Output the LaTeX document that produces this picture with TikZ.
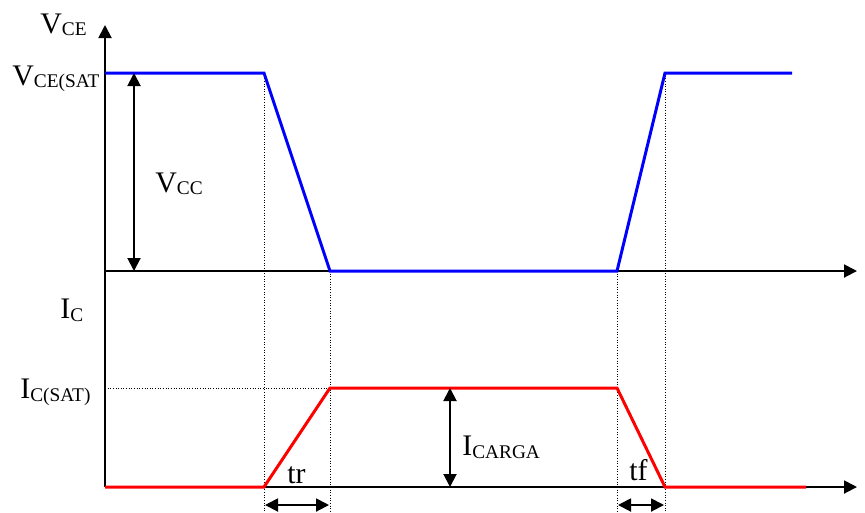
\documentclass[tikz,border=0pt]{standalone}
\usepackage{fontspec}
\setmainfont{Liberation Serif}
\usetikzlibrary{arrows.meta}
\newcommand{\lowidx}[1]{\raisebox{-1.7pt}{\fontsize{11}{11}\selectfont #1}}
\tikzset{
  >={Triangle[length=2.6mm,width=2.6mm]},
  axis/.style={line width=1.1pt,->},
  vcewave/.style={line width=1.7pt,blue,line join=miter},
  icwave/.style={line width=1.7pt,red,line join=miter},
  guide/.style={densely dotted,line width=0.5pt},
  span/.style={line width=1.1pt,<->},
  lbl/.style={inner sep=0pt,anchor=base west,font=\fontsize{17}{20}\selectfont},
}
\begin{document}
\begin{tikzpicture}[x=0.02cm,y=-0.02cm]
        \useasboundingbox (0,0) rectangle (865,512);
        % axes
        \coordinate (O)    at (105,487);
        \coordinate (Otop) at (105,25);
        \coordinate (Uo)   at (105,271);
        \coordinate (Uend) at (857,271);
        \coordinate (Lend) at (857,487);
        % vce points
        \coordinate (v1) at (105,73);
        \coordinate (v2) at (264,73);
        \coordinate (v3) at (330,271);
        \coordinate (v4) at (617,271);
        \coordinate (v5) at (665,73);
        \coordinate (v6) at (792,73);
        % ic points
        \coordinate (c1) at (105,487);
        \coordinate (c2) at (264,487);
        \coordinate (c3) at (330,388);
        \coordinate (c4) at (617,388);
        \coordinate (c5) at (665,487);
        \coordinate (c6) at (806,487);
        \coordinate (c0) at (105,388);
        % guide ends
        \coordinate (b2) at (264,512);
        \coordinate (b3) at (330,512);
        \coordinate (b4) at (617,512);
        \coordinate (b5) at (665,512);
        % spans
        \coordinate (vcctop) at (134,73);
        \coordinate (vccbot) at (134,271);
        \coordinate (cargatop) at (450,388);
        \coordinate (cargabot) at (450,487);
        \coordinate (trl) at (265,505);
        \coordinate (trr) at (329,505);
        \coordinate (tfl) at (618,505);
        \coordinate (tfr) at (664,505);
        % dotted guides
        \draw[guide] (v2) -- (b2);
        \draw[guide] (v3) -- (b3);
        \draw[guide] (v4) -- (b4);
        \draw[guide] (v5) -- (b5);
        \draw[guide] (c0) -- (c3);
        % axes
        \draw[axis] (O) -- (Otop);
        \draw[axis] (Uo) -- (Uend);
        \draw[axis] (O) -- (Lend);
        % waves
        \draw[vcewave] (v1) -- (v2) -- (v3) -- (v4) -- (v5) -- (v6);
        \draw[icwave] (c1) -- (c2) -- (c3) -- (c4) -- (c5) -- (c6);
        % spans
        \draw[span] (vcctop) -- (vccbot);
        \draw[span] (cargatop) -- (cargabot);
        \draw[span] (trl) -- (trr);
        \draw[span] (tfl) -- (tfr);
        % labels
        \node[lbl] (vce)    at (40,33)   {V\lowidx{CE}};
        \node[lbl] (vcesat) at (12,85)   {V\lowidx{CE(SAT}};
        \node[lbl] (vcc)    at (155,192) {V\lowidx{CC}};
        \node[lbl] (ic)     at (60,318)  {I\lowidx{C}};
        \node[lbl] (icsat)  at (20,398)  {I\lowidx{C(SAT)}};
        \node[lbl] (carga)  at (462,455) {I\lowidx{CARGA}};
        \node[lbl] (tr)     at (287,483) {tr};
        \node[lbl] (tf)     at (629,480) {tf};
    \end{tikzpicture}
\end{document}
